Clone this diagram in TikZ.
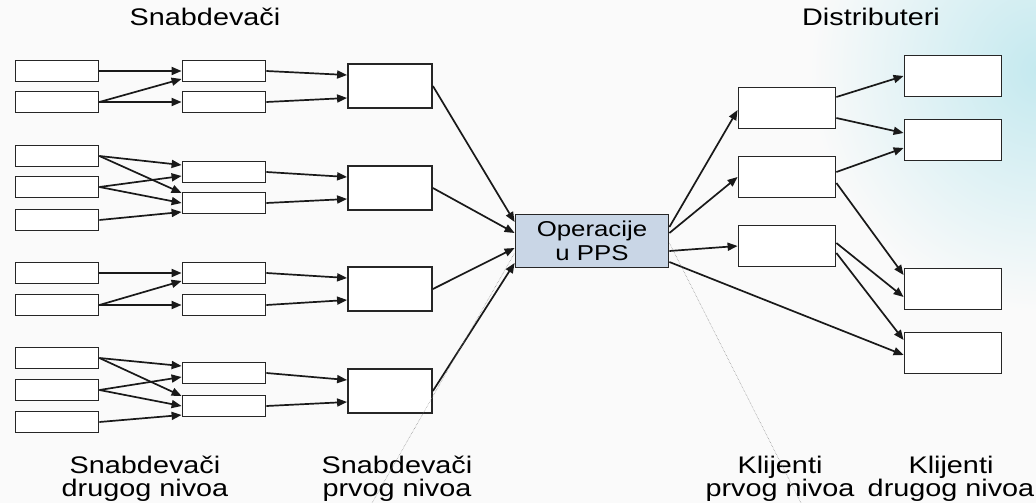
\documentclass[tikz,border=0pt]{standalone}
\usepackage{fontspec}
\setmainfont{Liberation Sans}[FakeStretch=1.2]
\usetikzlibrary{arrows.meta}
\definecolor{opsblue}{HTML}{C9D6E6}
\definecolor{wash}{HTML}{C4E9EF}

\begin{document}
\begin{tikzpicture}[x=1pt,y=-1pt,
  box/.style={draw=black!85,line width=1.8pt,fill=white,inner sep=0pt},
  small/.style={box,minimum width=83pt,minimum height=21pt},
  big/.style={box,minimum width=84pt,minimum height=44pt},
  client/.style={box,minimum width=97pt,minimum height=41pt},
  ops/.style={box,fill=opsblue,minimum width=153pt,minimum height=53pt,align=center,font=\fontsize{21.5}{24}\selectfont},
  lbl/.style={align=center,font=\fontsize{24}{23}\selectfont},
  link/.style={-{Triangle[length=10pt,width=8pt]},line width=1.7pt,black!90},
  hair/.style={gray,line width=0.5pt,densely dotted}]
\useasboundingbox (0,0) rectangle (1036,503);
\fill[black!2] (0,0) rectangle (1036,503);
\begin{scope}
\clip (0,0) rectangle (1036,503);
\shade[inner color=wash,outer color=black!2] (1040,70) ellipse (230 and 240);
\end{scope}

% second tier suppliers
\node[small] (l1) at (57,71) {};
\node[small] (l2) at (57,102) {};
\node[small] (l3) at (57,156) {};
\node[small] (l4) at (57,187) {};
\node[small] (l5) at (57,220) {};
\node[small] (l6) at (57,273) {};
\node[small] (l7) at (57,305) {};
\node[small] (l8) at (57,358) {};
\node[small] (l9) at (57,390) {};
\node[small] (l10) at (57,422) {};
% middle boxes
\node[small] (m1) at (224,71) {};
\node[small] (m2) at (224,102) {};
\node[small] (m3) at (224,172) {};
\node[small] (m4) at (224,203) {};
\node[small] (m5) at (224,273) {};
\node[small] (m6) at (224,305) {};
\node[small] (m7) at (224,373) {};
\node[small] (m8) at (224,406) {};
% first tier suppliers
\node[big] (t1) at (390,86) {};
\node[big] (t2) at (390,188) {};
\node[big] (t3) at (390,289) {};
\node[big] (t4) at (390,391) {};
% operations
\node[ops] (op) at (592,241) {Operacije\\u PPS};
% clients
\node[client] (c1) at (787,108) {};
\node[client] (c2) at (787,177) {};
\node[client] (c3) at (787,246) {};
\node[client] (d1) at (953,76) {};
\node[client] (d2) at (953,140) {};
\node[client] (d3) at (953,289) {};
\node[client] (d4) at (953,353) {};

% labels
\node[lbl,anchor=base] (sup) at (205,26) {Snabdevači};
\node[lbl,anchor=base] (dist) at (871,26) {Distributeri};
\node[lbl] (sup2) at (145,479) {Snabdevači\\drugog nivoa};
\node[lbl] (sup1) at (397,479) {Snabdevači\\prvog nivoa};
\node[lbl] (cl1) at (780,479) {Klijenti\\prvog nivoa};
\node[lbl] (cl2) at (951,479) {Klijenti\\drugog nivoa};

% supplier side
\draw[link] (l1) -- (m1);
\draw[link] (l2.east) -- ([yshift=-8]m1.west);
\draw[link] (l2) -- (m2);
\draw[link] (l3.east) -- ([yshift=7]m3.west);
\draw[link] (l3.east) -- ([yshift=10]m4.west);
\draw[link] (l4.east) -- ([yshift=-4]m3.west);
\draw[link] (l4.east) -- (m4.west);
\draw[link] (l5.east) -- ([yshift=-9]m4.west);
\draw[link] (l6) -- (m5);
\draw[link] (l7.east) -- ([yshift=-8]m5.west);
\draw[link] (l7) -- (m6);
\draw[link] (l8.east) -- ([yshift=7]m7.west);
\draw[link] (l8.east) -- ([yshift=10]m8.west);
\draw[link] (l9.east) -- ([yshift=-4]m7.west);
\draw[link] (l9.east) -- (m8.west);
\draw[link] (l10.east) -- ([yshift=-9]m8.west);

\draw[link] (m1.east) -- ([yshift=11]t1.west);
\draw[link] (m2.east) -- ([yshift=-12]t1.west);
\draw[link] (m3.east) -- ([yshift=11]t2.west);
\draw[link] (m4.east) -- ([yshift=-11]t2.west);
\draw[link] (m5.east) -- ([yshift=11]t3.west);
\draw[link] (m6.east) -- ([yshift=-11]t3.west);
\draw[link] (m7.east) -- ([yshift=11]t4.west);
\draw[link] (m8.east) -- ([yshift=-11]t4.west);

\draw[link] (t1.east) -- ([yshift=19]op.west);
\draw[link] (t2.east) -- ([yshift=8]op.west);
\draw[link] (t3.east) -- ([yshift=-7]op.west);
\draw[link] (t4.east) -- ([yshift=-22]op.west);

% client side
\draw[link] ([yshift=14]op.east) -- ([yshift=-2]c1.west);
\draw[link] ([yshift=8]op.east) -- (c2.west);
\draw[link] ([yshift=-10]op.east) -- (c3.west);
\draw[link] ([yshift=-21]op.east) -- ([yshift=-2]d4.west);
\draw[link] ([yshift=11]c1.east) -- (d1.west);
\draw[link] ([yshift=-10]c1.east) -- ([yshift=7]d2.west);
\draw[link] ([yshift=5]c2.east) -- ([yshift=-8]d2.west);
\draw[link] ([yshift=-6]c2.east) -- ([yshift=14]d3.west);
\draw[link] ([yshift=3]c3.east) -- ([yshift=-8]d3.west);
\draw[link] ([yshift=-7]c3.east) -- ([yshift=13]d4.west);

% thin pointer lines
\coordinate (pl) at (372,503);
\coordinate (pr) at (801,503);
\draw[hair] (pl) -- ([yshift=-12]op.west);
\draw[hair] (pr) -- ([yshift=-2]op.east);
\end{tikzpicture}
\end{document}
